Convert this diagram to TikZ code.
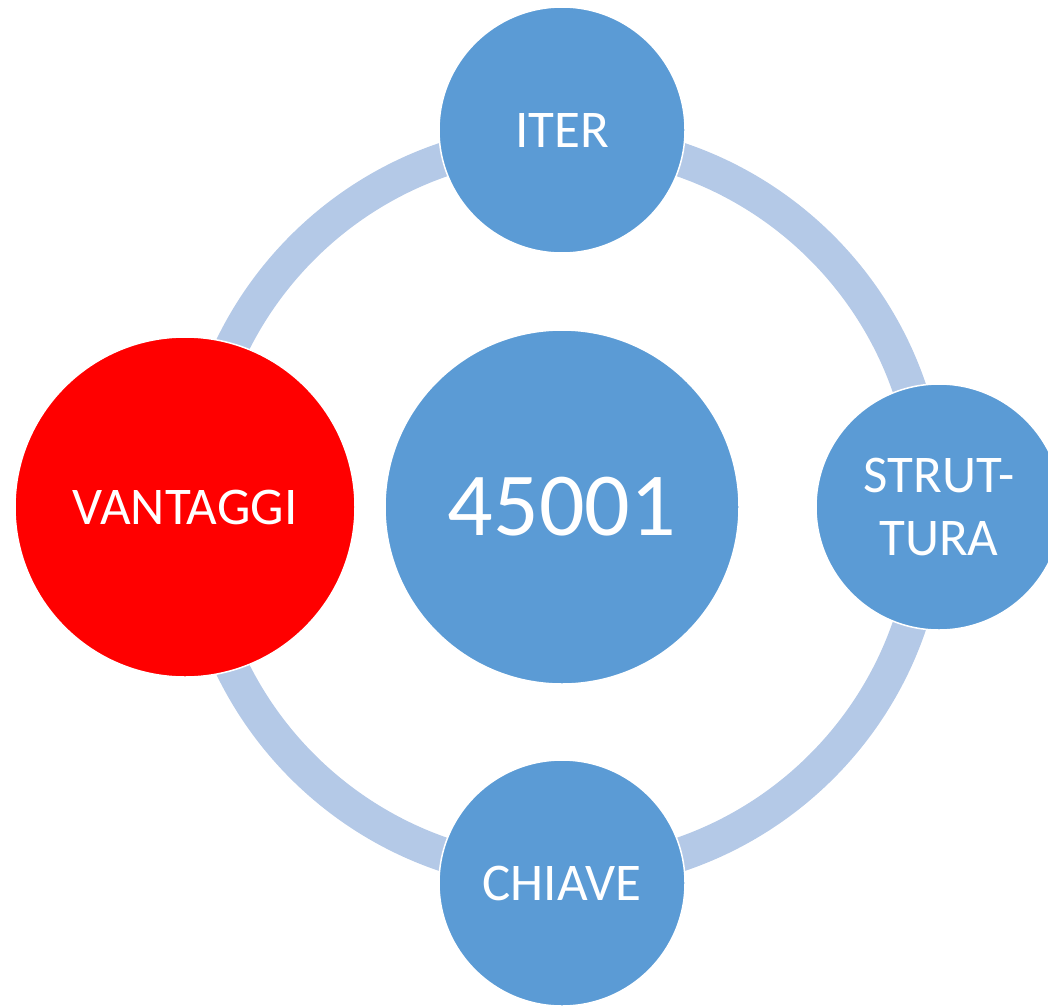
\documentclass[tikz,border=0pt]{standalone}
\usepackage{fontspec}
\setmainfont{Carlito}
\definecolor{nodeblue}{HTML}{5B9BD5}
\definecolor{ringblue}{HTML}{B4C9E7}
\definecolor{vred}{HTML}{FF0000}
\begin{document}
\begin{tikzpicture}[x=1pt,y=-1pt,
  bubble/.style={circle,draw=white,line width=1.5pt,fill=nodeblue,text=white,inner sep=0pt,align=center},
  sat/.style={bubble,minimum size=246pt,font=\fontsize{53}{63}\selectfont},
  ringline/.style={draw=ringblue,line width=34pt}]
\useasboundingbox (0,0) rectangle (1048,1006);
\coordinate (c) at (562,507);
\draw[ringline] (c) circle[radius=367];
\node[bubble,minimum size=354pt,font=\fontsize{90}{100}\selectfont] (core) at (c) {45001};
\node[sat] (iter) at (562,130) {ITER};
\node[sat] (strut) at (939,507) {STRUT-\\TURA};
\node[sat] (chiave) at (562,883) {CHIAVE};
\node[sat,fill=vred,minimum size=340pt] (vant) at (185,507) {VANTAGGI};
\end{tikzpicture}
\end{document}
